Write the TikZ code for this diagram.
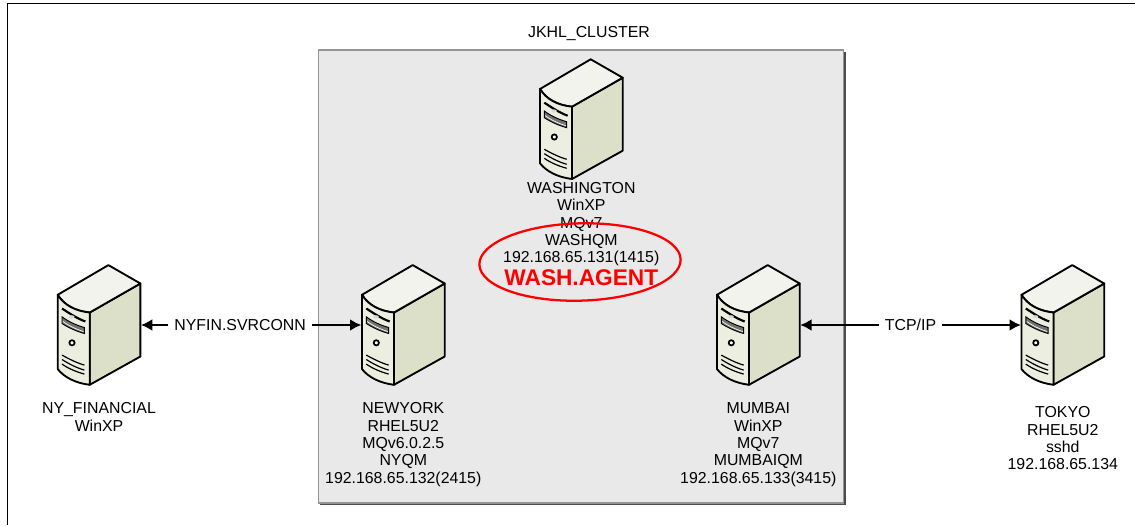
\documentclass[tikz,border=0pt]{standalone}
\usepackage{fontspec}
\setmainfont{Liberation Sans}
\usetikzlibrary{arrows.meta,positioning,shapes.geometric,shadows}

\definecolor{frontcol}{HTML}{ECEEE0}
\definecolor{sidecol}{HTML}{DCE0C9}
\definecolor{topcol}{HTML}{F2F3EC}
\definecolor{clustercol}{HTML}{E9E9E9}

\tikzset{
    hostbox/.style={minimum width=62.5pt,minimum height=90pt,inner sep=0pt},
    hosttext/.style={align=center,inner sep=0pt,font=\fontsize{11.9}{13}\selectfont},
    server/.pic={
        \draw[line width=1.4pt,line join=round,fill=sidecol] (-9.3,-12.5) -- (41.4,-41.5) -- (41.4,31.5) -- (-9.3,59.8) -- cycle;
        \draw[line width=1.4pt,line join=round,fill=topcol] (-41.3,-30.2) -- (9.4,-59.9) -- (41.4,-41.5) -- (-9.3,-12.5) .. controls (-24,-14) and (-35,-20) .. cycle;
        \draw[line width=1.4pt,line join=round,fill=frontcol] (-41.3,-30.2) .. controls (-35,-20) and (-24,-14) .. (-9.3,-12.5) -- (-9.3,59.8) .. controls (-24,58) and (-35,52) .. (-41.3,44.1) -- cycle;
        \draw[line width=1.6pt] (-37,-16.5) .. controls (-30,-12) and (-22,-6.5) .. (-13.6,-3.5);
        \fill[white!85!black] (-27.3,-8.2) ellipse (2.8 and 1.6);
        \draw[line width=0.7pt,fill=black!55] (-37,-8.2) .. controls (-30,-3) and (-22,0.5) .. (-14.6,2.5) -- (-14.6,8.5) .. controls (-22,6.5) and (-30,3) .. (-37,-1.5) -- cycle;
        \draw[line width=0.5pt,white] (-36,-3.5) .. controls (-30,1) and (-22,4.5) .. (-15.5,6.5);
        \draw[line width=1.3pt,fill=white] (-27,17.8) circle (2.6);
        \draw[line width=0.9pt] (-37,30.1) .. controls (-30,34) and (-22,38) .. (-14.6,40.1);
        \draw[line width=0.9pt] (-37,34.5) .. controls (-30,39) and (-22,43) .. (-14.6,45.1);
        \draw[line width=0.9pt] (-37,39.1) .. controls (-30,44) and (-22,47) .. (-14.6,49.1);
    }
}

\begin{document}
\begin{tikzpicture}[x=0.75pt,y=-0.75pt,node distance=6pt,link/.style={line width=1.7pt,{Latex[length=8.5pt,width=9pt]}-{Latex[length=8.5pt,width=9pt]}},linklabel/.style={hosttext,fill=white,inner xsep=4.5pt,inner ysep=2pt}]
    \useasboundingbox (0,0) rectangle (1135,525);
    \draw[line width=1.2pt] (7.3,525) -- (7.3,3.3) -- (1135,3.3);

    \node[draw=black!42,line width=1.1pt,fill=clustercol,minimum width=394pt,minimum height=339.5pt,inner sep=0pt,drop shadow={shadow xshift=1.5pt,shadow yshift=-1.5pt,fill=black!70,opacity=1}] (cluster) at (581,276.5) {};
    \node[hosttext] (clusterlabel) at (589,34) {JKHL\_CLUSTER};

    \node[hostbox] (wash)    at (581.3,119.2) {};
    \node[hostbox] (nyfin)   at (99,325) {};
    \node[hostbox] (newyork) at (403.3,325) {};
    \node[hostbox] (mumbai)  at (758.3,325) {};
    \node[hostbox] (tokyo)   at (1062.8,325) {};
    \foreach \host in {wash,nyfin,newyork,mumbai,tokyo}
        \pic at (\host) {server};

    \node[hosttext] (washtext)    [below=2pt of wash]    {WASHINGTON\\WinXP\\MQv7\\WASHQM\\192.168.65.131(1415)};
    \node[hosttext] (nyfintext)   [below=13pt of nyfin]  {NY\_FINANCIAL\\WinXP};
    \node[hosttext] (newyorktext) [below=13pt of newyork] {NEWYORK\\RHEL5U2\\MQv6.0.2.5\\NYQM\\192.168.65.132(2415)};
    \node[hosttext] (mumbaitext)  [below=13pt of mumbai] {MUMBAI\\WinXP\\MQv7\\MUMBAIQM\\192.168.65.133(3415)};
    \node[hosttext] (tokyotext)   [below=16pt of tokyo]  {TOKYO\\RHEL5U2\\sshd\\192.168.65.134};

    \node[font=\fontsize{17}{18}\selectfont\bfseries,text=red,inner sep=0pt] (agent) [below=2.5pt of washtext] {WASH.AGENT};
    \node[draw=red,line width=1.7pt,ellipse,rotate=1.5,minimum width=151pt,minimum height=58pt,inner sep=0pt] (ring) at (580,262) {};

    \draw[link] (nyfin) -- node[linklabel,pos=0.45] (nyfinlabel) {NYFIN.SVRCONN} (newyork);
    \draw[link] (mumbai) -- node[linklabel] (tcplabel) {TCP/IP} (tokyo);
\end{tikzpicture}
\end{document}
